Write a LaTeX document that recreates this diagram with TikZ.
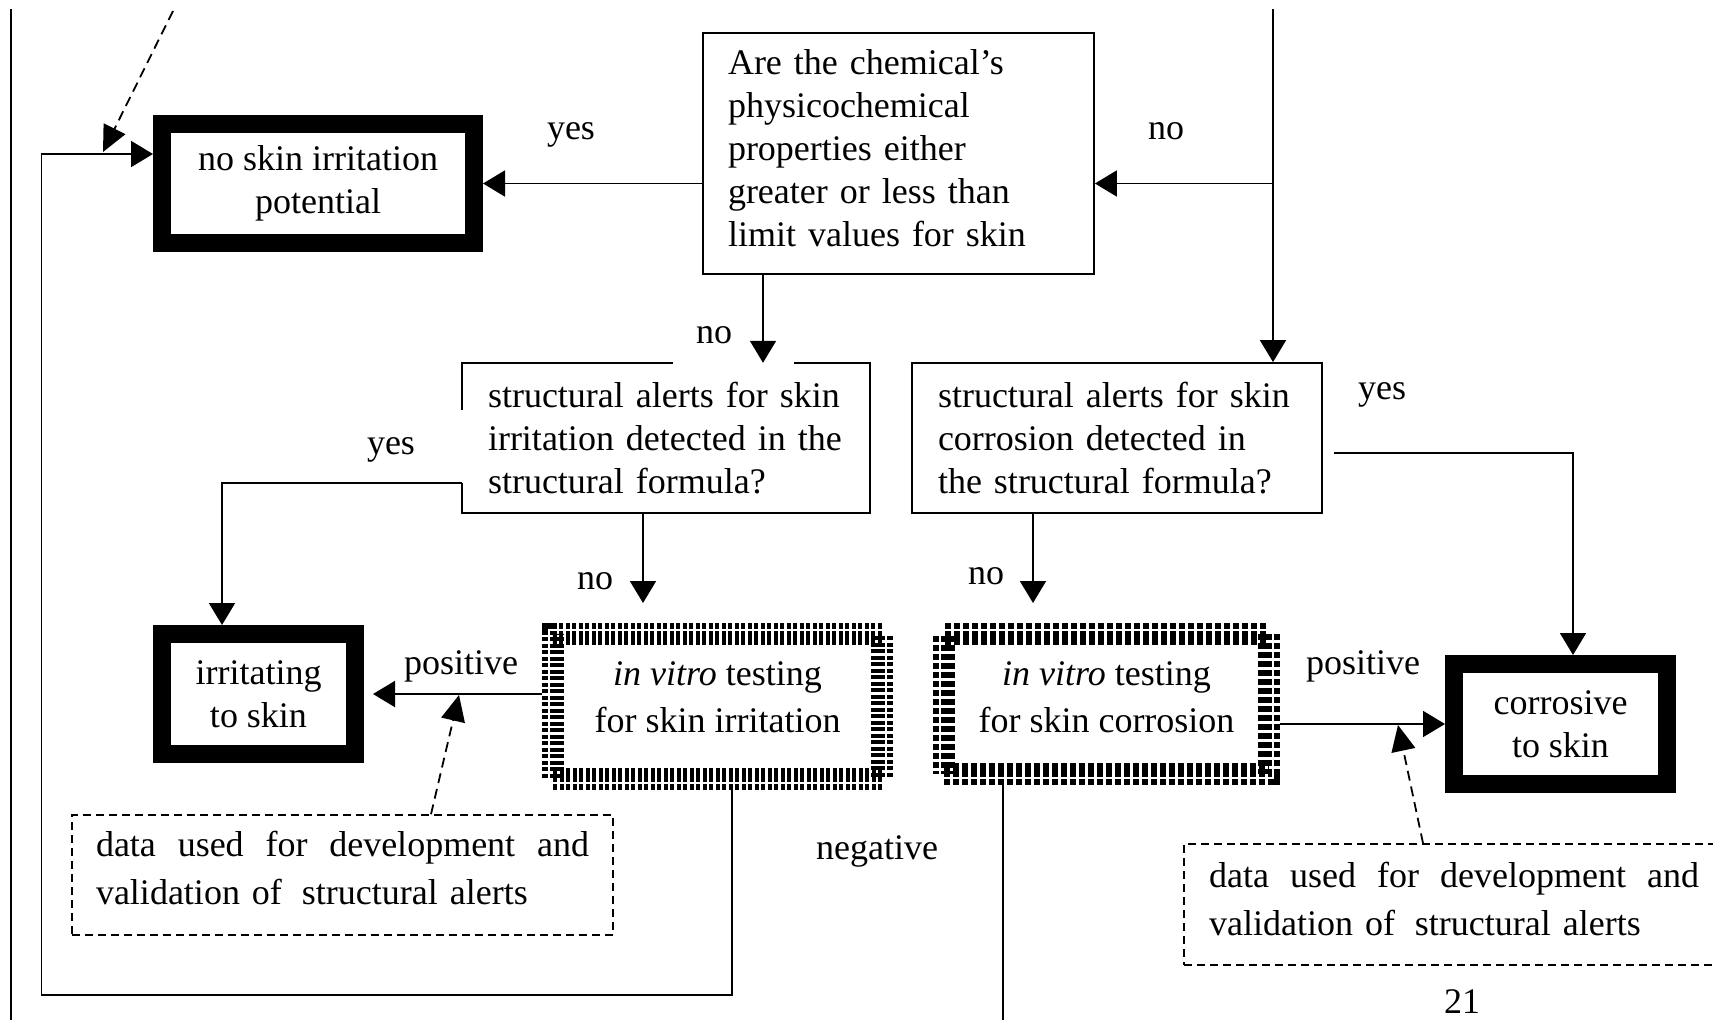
\documentclass[tikz,border=0pt]{standalone}
\usepackage{fontspec}
\setmainfont{Liberation Serif}
\usetikzlibrary{arrows.meta,calc}
\begin{document}
\begin{tikzpicture}[x=1pt,y=-1pt,
  every node/.style={font=\fontsize{36}{43}\selectfont, inner sep=0pt},
  thinline/.style={line width=1.8pt},
  arr/.style={thinline, -{Triangle[length=22pt,width=26pt]}},
  darr/.style={line width=1.8pt, dash pattern=on 10pt off 6pt, -{Triangle[length=26pt,width=24pt]}},
  box/.style={draw, line width=1.8pt},
  thickbox/.style={draw, line width=18pt, align=center},
  hatchbox/.style={draw, line width=22pt, dash pattern=on 4pt off 2.5pt, align=center},
  databox/.style={draw, line width=1.6pt, dash pattern=on 8pt off 5pt, align=left},
  lbl/.style={}
]
\useasboundingbox (0,0) rectangle (1713,1020);
\fill[white] (0,0) rectangle (1713,1020);
\clip (0,0) rectangle (1713,1020);

% terminal boxes with heavy frames
\node[thickbox, minimum width=312pt, minimum height=119pt] (nsip) at (318,183.5) {no skin irritation\\potential};
\node[thickbox, minimum width=193pt, minimum height=120pt] (irr) at (258.5,694) {irritating\\to skin};
\node[thickbox, minimum width=213pt, minimum height=120pt] (cor) at (1560.5,724) {corrosive\\to skin};

% question boxes
\node[box, minimum width=391pt, minimum height=241pt, text width=341pt, align=left] (q) at (898.5,153.5)
  {Are the chemical’s\\physicochemical\\properties either\\greater or less than\\limit values for skin\\[-33pt]\mbox{}};
\node[minimum width=408pt, minimum height=150pt, text width=356pt, align=left] (sai) at (666,438)
  {structural alerts for skin\\irritation detected in the\\structural formula?};
\node[box, minimum width=410pt, minimum height=150pt, text width=358pt, align=left] (sac) at (1117,438)
  {structural alerts for skin\\corrosion detected in\\the structural formula?};

% frame of the irritation alerts box, open where the labels sit
\draw[thinline] ($(sai.north west)+(211,0)$) -- (sai.north west) -- ($(sai.north west)+(0,47)$);
\draw[thinline] ($(sai.north west)+(0,120)$) -- (sai.south west) -- (sai.south east)
  -- (sai.north east) -- ($(sai.north west)+(332,0)$);

% in vitro test boxes
\node[hatchbox, minimum width=329pt, minimum height=145pt] (ivi) at (717.5,706.5)
  {\textit{in vitro} testing\\[4pt]for skin irritation\\[-25pt]\mbox{}};
\node[hatchbox, minimum width=325pt, minimum height=140pt, dash pattern=on 6pt off 3pt] (ivc) at (1106.5,704)
  {\textit{in vitro} testing\\[4pt]for skin corrosion\\[-30pt]\mbox{}};
\draw[white, line width=2pt] ($(ivi.north west)+(7,7)$) rectangle ($(ivi.south east)+(-7,-7)$);
\draw[white, line width=2pt] ($(ivc.north west)+(7,7)$) rectangle ($(ivc.south east)+(-7,-7)$);

% data boxes
\node[databox, minimum width=541pt, minimum height=120pt, text width=493pt] (d1) at (342.5,875)
  {\hbox to 493pt{data\hfill used\hfill for\hfill development\hfill and}\\[5pt]validation of\hspace{20pt}structural alerts\\[-29pt]\mbox{}};
\node[databox, minimum width=576pt, minimum height=121pt, text width=526pt] (d2) at (1472,904.5)
  {\hbox to 490pt{data\hfill used\hfill for\hfill development\hfill and}\\[5pt]validation of\hspace{20pt}structural alerts\\[-31pt]\mbox{}};

% labels
\node[lbl] (yes1) at (571,135) {yes};
\node[lbl] (no1) at (1166,131) {no};
\node[lbl] (no2) at (714,335) {no};
\node[lbl] (yes2) at (391,450) {yes};
\node[lbl] (yes3) at (1382,395) {yes};
\node[lbl] (no3) at (595,581) {no};
\node[lbl] (no4) at (986,576) {no};
\node[lbl] (pos1) at (461,666) {positive};
\node[lbl] (pos2) at (1363,666) {positive};
\node[lbl] (neg) at (877,851) {negative};
\node[lbl] (page) at (1462,1002) {21};

% helper points
\coordinate (lt) at (11,9);
\coordinate (lb) at (11,1020);
\coordinate (dt) at (173,11);
\coordinate (dtip) at (103,152);
\coordinate (lx) at (732,995);
\coordinate (ll) at (41.5,995);
\coordinate (lin) at (41.5,154);
\coordinate (rt) at (1273,9);
\coordinate (qx) at (763,0);
\coordinate (yl) at (222,483);
\coordinate (n1) at (643,603);
\coordinate (n2) at (1033,603);
\coordinate (pl) at (373,694);
\coordinate (yr) at (1573,453);
\coordinate (nb) at (1003,1020);
\coordinate (d1x) at (431,0);
\coordinate (da1) at (459,695);
\coordinate (d2x) at (1423,0);
\coordinate (da2) at (1398,725);

% connectors
\draw[thinline] (lt) -- (lb);
\draw[darr] (dt) -- (dtip);
\draw[arr] (ivi.south -| lx) -- (lx) -- (ll) -- (lin) -- (nsip.west |- lin);
\draw[arr] (q.west |- nsip.east) -- (nsip.east);
\draw[arr] (rt) -- (rt |- sac.north);
\draw[arr] (rt |- nsip.east) -- (q.east |- nsip.east);
\draw[arr] (q.south -| qx) -- (sai.north -| qx);
\draw[arr] (sai.west |- yl) -- (yl) -- (irr.north -| yl);
\draw[arr] (sai.south -| n1) -- (n1);
\draw[arr] (sac.south -| n2) -- (n2);
\draw[arr] (ivi.west |- pl) -- (pl);
\draw[arr] ($(sac.east |- yr)+(11,0)$) -- (yr) -- (cor.north -| yr);
\draw[arr] (ivc.east |- cor.west) -- (cor.west);
\draw[thinline] (ivc.south -| nb) -- (nb);
\draw[darr] (d1.north -| d1x) -- (da1);
\draw[darr] (d2.north -| d2x) -- (da2);
\end{tikzpicture}
\end{document}
